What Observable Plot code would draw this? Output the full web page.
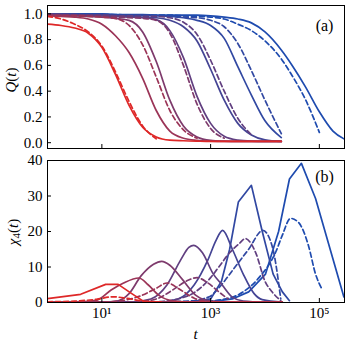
<!DOCTYPE html>
<html><head><meta charset="utf-8">
<script src="https://cdn.jsdelivr.net/npm/d3@7"></script>
<script src="https://cdn.jsdelivr.net/npm/@observablehq/plot@0.6"></script>
<style>
body{margin:0;background:#fff;}
#chart{width:350px;height:350px;font-family:"Liberation Serif",serif;}
#chart svg{display:block;overflow:visible;}
</style></head><body><div id="chart"></div>
<script>
// log10(t) sampling grid for Q(t)
const tExp = [0,0.25,0.5,0.75,1,1.25,1.5,1.75,2,2.25,2.5,2.75,3,3.25,3.5,3.75,4,4.3,4.5,4.75,5,5.25,5.5];
// Q(t), solid curves (7 temperatures, red -> blue)
const qSolid = [
 [0.92,0.91,0.89,0.85,0.74,0.53,0.29,0.12,0.045,0.02,0.015,0.012,0.01,0.01,0.01,0.01,0.01,0.01,null,null,null,null,null],
 [0.985,0.98,0.975,0.96,0.92,0.83,0.7,0.5,0.25,0.09,0.035,0.018,0.012,0.01,0.01,0.01,0.01,0.01,null,null,null,null,null],
 [0.99,0.99,0.985,0.98,0.975,0.965,0.95,0.86,0.63,0.33,0.13,0.045,0.018,0.012,0.01,0.01,0.01,0.01,null,null,null,null,null],
 [0.995,0.995,0.99,0.99,0.985,0.98,0.975,0.97,0.955,0.87,0.66,0.36,0.15,0.05,0.02,0.012,0.01,0.01,null,null,null,null,null],
 [1,0.995,0.995,0.99,0.99,0.985,0.98,0.975,0.97,0.95,0.9,0.79,0.57,0.33,0.15,0.06,0.022,0.01,null,null,null,null,null],
 [1,1,0.995,0.995,0.995,0.99,0.99,0.99,0.985,0.98,0.97,0.95,0.91,0.81,0.59,0.37,0.17,0.04,null,null,null,null,null],
 [1,1,1,1,1,0.995,0.995,0.995,0.99,0.99,0.99,0.99,0.985,0.975,0.96,0.93,0.86,0.72,0.6,0.43,0.24,0.09,0.02]
];
// Q(t), dashed curves
const qDashed = [
 [0.98,0.96,0.92,0.86,0.75,0.55,0.32,0.13,0.03,null,null,null,null,null,null,null,null,null,null,null,null,null,null],
 [0.99,0.985,0.985,0.98,0.975,0.965,0.91,0.76,0.51,0.25,0.1,0.035,null,null,null,null,null,null,null,null,null,null,null],
 [0.995,0.99,0.99,0.985,0.98,0.975,0.97,0.965,0.95,0.85,0.6,0.3,0.11,0.035,null,null,null,null,null,null,null,null,null],
 [1,0.995,0.995,0.99,0.99,0.985,0.985,0.98,0.98,0.97,0.935,0.84,0.64,0.4,0.19,0.06,null,null,null,null,null,null,null],
 [1,1,0.995,0.995,0.995,0.99,0.99,0.99,0.985,0.98,0.975,0.97,0.95,0.9,0.77,0.56,0.33,0.07,null,null,null,null,null],
 [1,1,1,0.995,0.995,0.995,0.99,0.99,0.99,0.99,0.985,0.98,0.975,0.96,0.92,0.87,0.79,0.65,0.52,0.33,0.08,null,null]
];
const dashedTemp = [0,1,2,3,5,6];
// chi_4(t): [log10 t, value] pairs
const chiSolid = [
 [[0,1.1],[0.61,2.3],[1.07,5.1],[1.3,5.1],[1.55,2.5],[1.77,0.3],[2.1,0.1],[4.32,0.05]],
 [[0,0.05],[0.5,0.1],[0.9,0.6],[1.17,3.5],[1.4,5.5],[1.68,6.9],[1.85,5],[2.05,2],[2.3,0.5],[2.7,0.1],[4.32,0.05]],
 [[0,0],[1.0,0.1],[1.3,0.5],[1.5,2.5],[1.72,7.5],[1.95,10.8],[2.1,11.6],[2.25,10.5],[2.48,6.5],[2.73,2],[3.0,0.4],[3.4,0.1],[4.32,0.05]],
 [[0,0],[1.5,0.1],[1.9,1],[2.2,5],[2.45,12],[2.6,15.5],[2.69,16.1],[2.85,14],[3.05,8],[3.21,5],[3.4,1.5],[3.6,0.4],[4.0,0.1],[4.32,0.05]],
 [[0,0],[2.0,0.1],[2.4,1],[2.7,5],[2.95,12],[3.1,17.5],[3.22,20.3],[3.4,15],[3.6,8],[3.8,2.5],[3.95,0.8],[4.32,0.1]],
 [[0,0],[2.6,0.1],[3.0,1],[3.2,6],[3.35,15],[3.51,28.3],[3.75,33],[3.95,20],[4.15,8],[4.32,3],[4.45,0.5]],
 [[0,0],[3.0,0.2],[3.4,1],[3.7,3],[4.01,8],[4.25,20],[4.45,34.8],[4.67,39.2],[4.93,29.3],[5.45,1.6],[5.5,1]]
];
const chiDashed = [
 [[0,0.2],[0.5,0.4],[0.9,0.9],[1.2,1.6],[1.45,1.2],[1.75,0.4],[2.09,0.1]],
 [[0,0],[1.0,0.1],[1.4,0.6],[1.7,1.8],[2.0,4],[2.2,5.5],[2.45,3.5],[2.7,1.2],[2.9,0.3]],
 [[0,0],[1.6,0.1],[2.0,1],[2.3,3.5],[2.55,6],[2.75,7],[2.95,5.5],[3.15,3],[3.32,1]],
 [[0,0],[2.0,0.2],[2.4,1],[2.72,3],[3.0,7],[3.15,10],[3.35,14],[3.52,16.5],[3.64,18],[3.83,14],[4.0,6],[4.13,3],[4.29,0.5]],
 [[0,0],[2.5,0.3],[2.96,1.5],[3.2,5],[3.4,9],[3.7,15],[3.96,20.3],[4.13,16],[4.29,1]],
 [[0,0],[2.8,0.3],[3.28,1],[3.6,3],[3.89,7],[4.2,14.3],[4.32,19],[4.47,23.7],[4.62,22.5],[4.8,16],[4.93,8],[5.04,4]]
];
const tempColors = ["#de2828","#9b3457","#7e3a6c","#613f80","#444494","#3148a2","#1e4baf"];
const xTicks = [10,1000,100000];
const xTickLabels = ["10¹","10³","10⁵"];
const qTicks = [0,0.2,0.4,0.6,0.8,1.0];
const chiTicks = [0,10,20,30,40];

const sharp = new Set([0,5,6]);
const plotStyle = {fontFamily:"'Liberation Serif', serif", fontSize:"15px", color:"#000", background:"transparent"};
const xDomain = [1, 2.9e5];

function qRows(vals){ return tExp.map((e,i)=>({t:10**e, v:vals[i]})).filter(d=>d.v!=null); }
function chiRows(pairs){ return pairs.map(([e,v])=>({t:10**e, v})); }

const topMarks = [];
for (let k=6;k>=0;k--){
  const di = dashedTemp.indexOf(k);
  if (di>=0) topMarks.push(Plot.line(qRows(qDashed[di]),{x:"t",y:"v",stroke:tempColors[k],strokeWidth:1.7,strokeDasharray:"5,3",curve:"monotone-x",clip:true}));
  topMarks.push(Plot.line(qRows(qSolid[k]),{x:"t",y:"v",stroke:tempColors[k],strokeWidth:1.7,curve:"monotone-x",clip:true}));
}
const topChart = Plot.plot({
  width:350, height:150, marginLeft:47, marginRight:6, marginTop:5, marginBottom:2,
  style: plotStyle,
  x:{type:"log", domain:xDomain, label:null},
  y:{domain:[-0.045,1.065], label:null},
  marks:[
    ...topMarks,
    Plot.frame({stroke:"#000", strokeWidth:1}),
    Plot.axisX({ticks:xTicks, tickSize:-4, tickFormat:()=>"", label:null}),
    Plot.axisY({ticks:qTicks, tickSize:-4, tickPadding:9, tickFormat:d=>d.toFixed(1), label:null}),
    Plot.text(["(a)"],{text:d=>d, frameAnchor:"top-right", dx:-20, dy:20, fontSize:16, textAnchor:"middle", lineAnchor:"middle"})
  ]
});

const botMarks = [];
for (let k=6;k>=0;k--){
  const di = dashedTemp.indexOf(k);
  if (di>=0) botMarks.push(Plot.line(chiRows(chiDashed[di]),{x:"t",y:"v",stroke:tempColors[k],strokeWidth:1.7,strokeDasharray:"5,3",curve:"monotone-x",clip:true}));
  botMarks.push(Plot.line(chiRows(chiSolid[k]),{x:"t",y:"v",stroke:tempColors[k],strokeWidth:1.7,curve:sharp.has(k)?"linear":"monotone-x",clip:true}));
}
const botChart = Plot.plot({
  width:350, height:200, marginLeft:47, marginRight:6, marginTop:10, marginBottom:48,
  style: plotStyle,
  x:{type:"log", domain:xDomain, label:null},
  y:{domain:[0,40], label:null},
  marks:[
    ...botMarks,
    Plot.frame({stroke:"#000", strokeWidth:1}),
    Plot.axisX({ticks:xTicks, tickSize:-4, tickPadding:9, tickFormat:d=>xTickLabels[xTicks.indexOf(d)], label:null}),
    Plot.axisY({ticks:chiTicks, tickSize:-4, tickPadding:9, tickFormat:d=>String(d), label:null}),
    Plot.text(["(b)"],{text:d=>d, frameAnchor:"top-right", dx:-20, dy:16.5, fontSize:16, textAnchor:"middle", lineAnchor:"middle"})
  ]
});

function addLabel(svg, x, y, rot, parts){
  const t = d3.select(svg).append("text")
    .attr("transform", `translate(${x},${y}) rotate(${rot})`)
    .attr("text-anchor","middle").attr("dominant-baseline","central")
    .style("font-family","'Liberation Serif', serif").style("font-size","15px").attr("fill","#000");
  for (const p of parts){
    const s = t.append("tspan").text(p.s);
    if (p.i) s.style("font-style","italic");
    if (p.sub) s.attr("baseline-shift","-25%").style("font-size","11px");
  }
}
addLabel(topChart, 11, 80, -90, [{s:"Q",i:1},{s:"("},{s:"t",i:1},{s:")"}]);
addLabel(botChart, 12.5, 82, -90, [{s:"χ",i:1},{s:"4",sub:1},{s:"("},{s:"t",i:1},{s:")"}]);
addLabel(botChart, 195.5, 184, 0, [{s:"t",i:1}]);

const root = document.getElementById("chart");
root.appendChild(topChart);
root.appendChild(botChart);
</script></body></html>
